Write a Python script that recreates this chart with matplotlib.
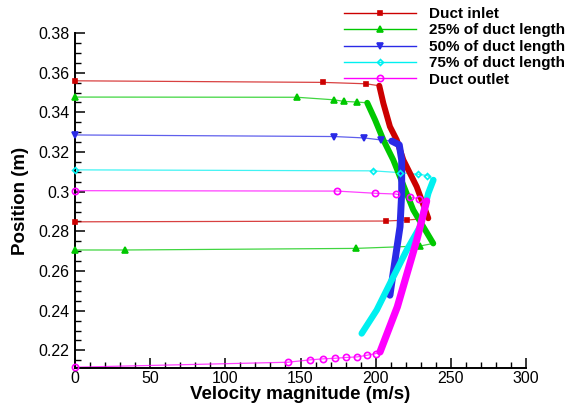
import matplotlib
matplotlib.use("Agg")
import matplotlib.pyplot as plt
from matplotlib.lines import Line2D
from matplotlib.ticker import MultipleLocator, FuncFormatter

plt.rcParams['font.family'] = ['Liberation Sans', 'DejaVu Sans']

# velocity profiles across the duct at five stations (velocity m/s, position m)
inlet_vel = [0, 206.7, 221.0, 235.0, 227.3, 218.4, 214.0, 209.5, 205.1, 202.4, 193.6, 164.8, 0]
inlet_pos = [0.2848, 0.2852, 0.2857, 0.2866, 0.3025, 0.3160, 0.3261, 0.3328, 0.3446, 0.3534,
             0.3544, 0.3551, 0.3559]

q25_vel = [0, 33.3, 186.7, 229.5, 238.3, 225.0, 211.7, 205.1, 199.6, 194.4, 187.4, 179.0,
           172.5, 147.7, 0]
q25_pos = [0.2706, 0.2706, 0.2714, 0.2726, 0.2739, 0.2908, 0.3160, 0.3261, 0.3362, 0.3448,
           0.3452, 0.3455, 0.3463, 0.3476, 0.3477]

q50_vel = [209.5, 212.9, 216.2, 217.3, 217.3, 215.7, 210.7, 203.4, 192.2, 172.5, 0]
q50_pos = [0.2478, 0.2655, 0.2823, 0.2992, 0.3160, 0.3236, 0.3255, 0.3261, 0.3271, 0.3278, 0.3286]

q75_vel = [190.7, 200.7, 209.5, 220.7, 229.5, 235.0, 238.4, 234.4, 228.0, 216.2, 198.4, 0]
q75_pos = [0.2285, 0.2403, 0.2537, 0.2706, 0.2823, 0.2992, 0.3059, 0.3081, 0.3088, 0.3096,
           0.3105, 0.3110]

outlet_vel = [0, 141.5, 156.3, 164.8, 172.8, 180.3, 187.8, 194.0, 200.2, 202.9, 214.4, 227.3,
              233.9, 229.0, 222.8, 213.5, 199.6, 174.3, 0]
outlet_pos = [0.2115, 0.2140, 0.2152, 0.2157, 0.2160, 0.2164, 0.2167, 0.2175, 0.2184, 0.2192,
              0.2419, 0.2755, 0.2953, 0.2965, 0.2972, 0.2988, 0.2992, 0.3003, 0.3005]

labels = ["Duct inlet", "25% of duct length", "50% of duct length",
          "75% of duct length", "Duct outlet"]

# (vel, pos, colour, marker, marker size, core width, dense core slice)
series = [
    (inlet_vel, inlet_pos, "#cc0000", "s", 3.0, 4.3, (3, 9)),
    (q25_vel, q25_pos, "#00c800", "^", 3.8, 4.3, (4, 9)),
    (q50_vel, q50_pos, "#2a2ae6", "v", 3.8, 5.0, (0, 6)),
    (q75_vel, q75_pos, "#00f0f0", "D", 3.0, 4.6, (0, 6)),
    (outlet_vel, outlet_pos, "#ff00ff", "o", 4.5, 5.2, (9, 12)),
]

fig = plt.figure(figsize=(5.71, 4.07), dpi=100)
ax = fig.add_axes([75 / 571, 1 - 368 / 407, 451 / 571, 335 / 407])

handles = []
for (vel, pos, col, mk, ms, cw, (i0, i1)), lab in zip(series, labels):
    wall = [i for i in range(len(vel)) if i < i0 or i > i1]
    hollow = mk in ("o", "D")
    ax.plot(vel, pos, color=col, lw=0.9, alpha=0.75, clip_on=False, zorder=2)
    ax.plot([vel[i] for i in wall], [pos[i] for i in wall], ls="none", marker=mk, ms=ms,
            mfc="none" if hollow else col, mec=col, mew=1.2, clip_on=False, zorder=3)
    ax.plot(vel[i0:i1 + 1], pos[i0:i1 + 1], color=col, lw=cw, solid_capstyle="round",
            solid_joinstyle="round", zorder=3)
    handles.append(Line2D([], [], color=col, lw=1.0, marker=mk, ms=ms,
                          mfc="none" if hollow else col, mec=col, mew=1.2))

ax.set_xlim(0, 300)
ax.set_ylim(0.2111, 0.38)
ax.xaxis.set_major_locator(MultipleLocator(50))
ax.xaxis.set_minor_locator(MultipleLocator(10))
ax.yaxis.set_major_locator(MultipleLocator(0.02))
ax.yaxis.set_minor_locator(MultipleLocator(0.005))
ax.yaxis.set_major_formatter(FuncFormatter(lambda v, p: "%g" % round(v, 3)))
ax.tick_params(which="major", direction="in", length=7, width=1.1, labelsize=11.5,
               top=False, right=False)
ax.tick_params(axis="x", which="major", pad=2.5)
ax.tick_params(axis="y", which="major", pad=4)
ax.tick_params(which="minor", direction="in", length=4.5, width=1.0, top=False, right=False)

for side in ("top", "right"):
    ax.spines[side].set_visible(False)
for side in ("left", "bottom"):
    ax.spines[side].set_linewidth(1.4)

ax.set_xlabel("Velocity magnitude (m/s)", fontsize=13.5, fontweight="bold")
ax.set_ylabel("Position (m)", fontsize=13.5, fontweight="bold")
ax.xaxis.set_label_coords(0.5, -0.053)
ax.yaxis.set_label_coords(-0.101, 0.5)

fig.legend(handles, labels, loc="upper left", bbox_to_anchor=(344 / 571, 1 - 7 / 407),
           frameon=False, prop={"weight": "bold", "size": 11},
           handlelength=4.7, handletextpad=0.85, labelspacing=0.16, borderpad=0,
           borderaxespad=0, numpoints=1)

fig.savefig("out.png", dpi=100)
